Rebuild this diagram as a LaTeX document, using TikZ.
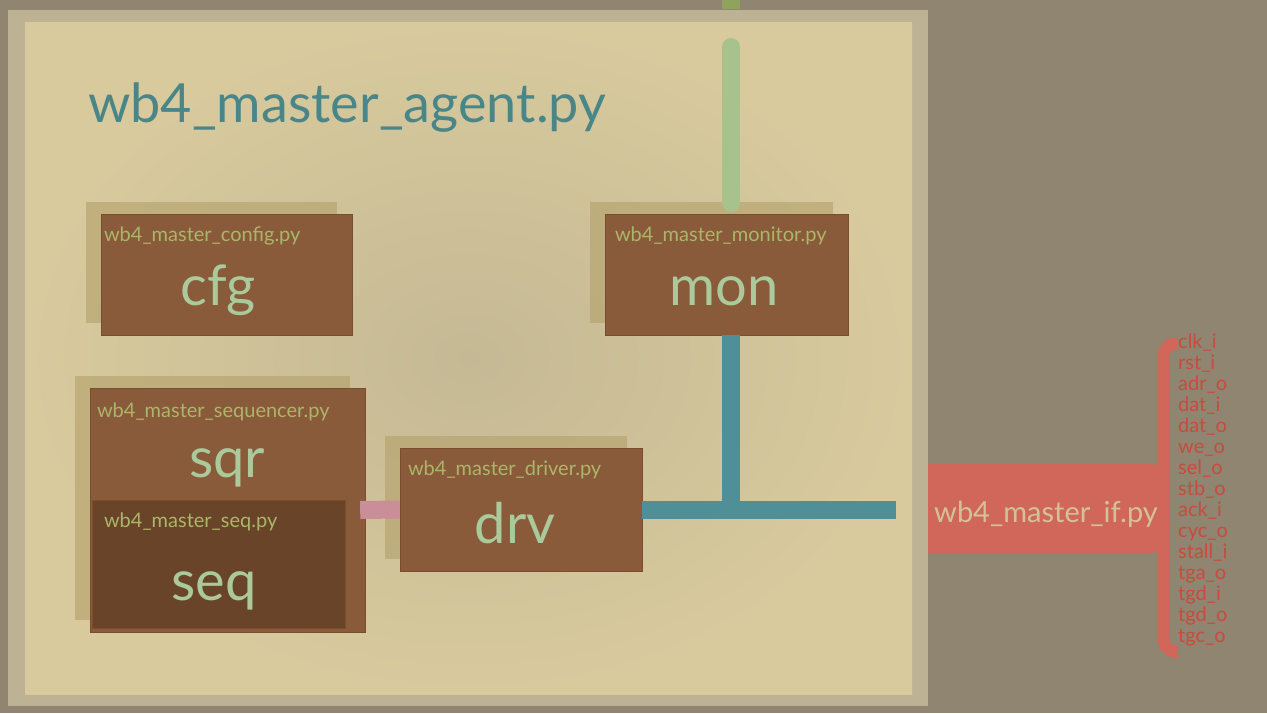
\documentclass[tikz,border=0pt]{standalone}
\usepackage{fontspec}
\setmainfont{Lato}
\usetikzlibrary{positioning, shadows}

\definecolor{bgbrown}{HTML}{8F8570}
\definecolor{rimtan}{HTML}{BDB293}
\definecolor{beveltan}{HTML}{D8CA9D}
\definecolor{floortan}{HTML}{C5B995}
\definecolor{shadowtan}{HTML}{B3A06A}
\definecolor{boxbrown}{HTML}{8A5B3B}
\definecolor{boxedge}{HTML}{7A4C30}
\definecolor{seqbrown}{HTML}{6A4428}
\definecolor{fnamegreen}{HTML}{AAB668}
\definecolor{biggreen}{HTML}{AACA9B}
\definecolor{titleteal}{HTML}{4A8588}
\definecolor{greenbus}{HTML}{A7C28D}
\definecolor{stubgreen}{HTML}{8FA35E}
\definecolor{bluebus}{HTML}{4F8F98}
\definecolor{pinkbus}{HTML}{C98E97}
\definecolor{ifred}{HTML}{D0675A}
\definecolor{iftext}{HTML}{D3C198}
\definecolor{sigred}{HTML}{CA4A3E}

\begin{document}
\begin{tikzpicture}[
            x = 1pt, y = -1pt, % one unit per pixel, y pointing down
            bus/.style = {line width = 18pt}, % bus bars
            modbox/.style = {
                rectangle, fill = boxbrown, draw = boxedge, inner sep = 0pt,
                drop shadow = {shadow xshift = -15pt, shadow yshift = 12pt,
                    fill = shadowtan, opacity = .6}
            },
            subbox/.style = {rectangle, fill = seqbrown, draw = boxedge, inner sep = 0pt}
        ]

        \tikzstyle{fname}=[
            text = fnamegreen,
            font = \fontsize{20}{20}\selectfont,
            inner sep = 0pt
        ]
        \tikzstyle{bigname}=[
            text = biggreen,
            font = \fontsize{56}{56}\selectfont,
            inner sep = 0pt,
            anchor = base
        ]
        \tikzstyle{title}=[
            text = titleteal,
            font = \fontsize{54}{54}\selectfont,
            inner sep = 0pt,
            anchor = base west
        ]
        \tikzstyle{sig}=[
            text = sigred,
            font = \fontsize{20}{20}\selectfont,
            inner sep = 0pt,
            anchor = base west
        ]

        \useasboundingbox (0,0) rectangle (1267,713);

        % scene and agent frame
        \fill[bgbrown] (0,0) rectangle (1267,713);
        \fill[ifred] (900,464) -- (1152,464) .. controls (1172,464) and (1172,553) .. (1152,553) -- (900,553) -- cycle;
        \fill[rimtan] (8,10) rectangle (928,706);
        \shade[inner color = floortan, outer color = beveltan] (25,22) rectangle (912,694);

        % title
        \node[title] (agent) at (88,122) {wb4\_master\_agent.py};

        % modules
        \node[modbox, minimum width = 251pt, minimum height = 121pt] (cfg) at (226.5,274.5) {};
        \node[modbox, minimum width = 243pt, minimum height = 121pt] (mon) at (726.5,274.5) {};
        \node[modbox, minimum width = 275pt, minimum height = 244pt] (sqr) at (227.5,510) {};
        \node[subbox, minimum width = 253pt, minimum height = 128pt] (seq) at (218.5,564) {};
        \node[modbox, minimum width = 242pt, minimum height = 123pt] (drv) at (521,509.5) {};

        \node[fname, below right = 13pt and 3pt of cfg.north west] (cfgf) {wb4\_master\_config.py};
        \node[fname, below right = 13pt and 10pt of mon.north west] (monf) {wb4\_master\_monitor.py};
        \node[fname, below right = 15pt and 7pt of sqr.north west] (sqrf) {wb4\_master\_sequencer.py};
        \node[fname, below right = 13pt and 12pt of seq.north west] (seqf) {wb4\_master\_seq.py};
        \node[fname, below right = 13pt and 8pt of drv.north west] (drvf) {wb4\_master\_driver.py};

        \node[bigname] (cfgn) at (218,305) {cfg};
        \node[bigname] (monn) at (724,305) {mon};
        \node[bigname] (sqrn) at (227,477) {sqr};
        \node[bigname] (seqn) at (214,600) {seq};
        \node[bigname] (drvn) at (515,543) {drv};

        % interface
        \node[text = iftext, font = \fontsize{29}{29}\selectfont, inner sep = 0pt, anchor = base] (ifc) at (1046,522) {wb4\_master\_if.py};
        \draw[ifred, line width = 12pt] (1178,343) to[out = 180, in = 90] (1163,357) -- (1163,638) to[out = -90, in = 180] (1178,652);
        \foreach \s [count = \i from 0] in {clk\_i, rst\_i, adr\_o, dat\_i, dat\_o, we\_o, sel\_o, stb\_o,
                ack\_i, cyc\_o, stall\_i, tga\_o, tgd\_i, tgd\_o, tgc\_o}
            \node[sig] at (1178, {348 + 21*\i}) {\s};

        % buses
        \coordinate (stub) at (731,0);
        \coordinate (monin) at (731,47);
        \coordinate (busend) at (896,507);
        \draw[bus, stubgreen] (stub) -- ++(0,9);
        \draw[bus, greenbus, line cap = round, shorten > = 11pt] (monin) -- (monin |- mon.north);
        \draw[bus, bluebus] (monin |- mon.south) -- (monin |- drv.east);
        \draw[bus, bluebus] (drv.east) -- (drv.east -| busend);
        \draw[bus, pinkbus] ([xshift = -5pt]sqr.east) -- (drv.west);
    \end{tikzpicture}
\end{document}
